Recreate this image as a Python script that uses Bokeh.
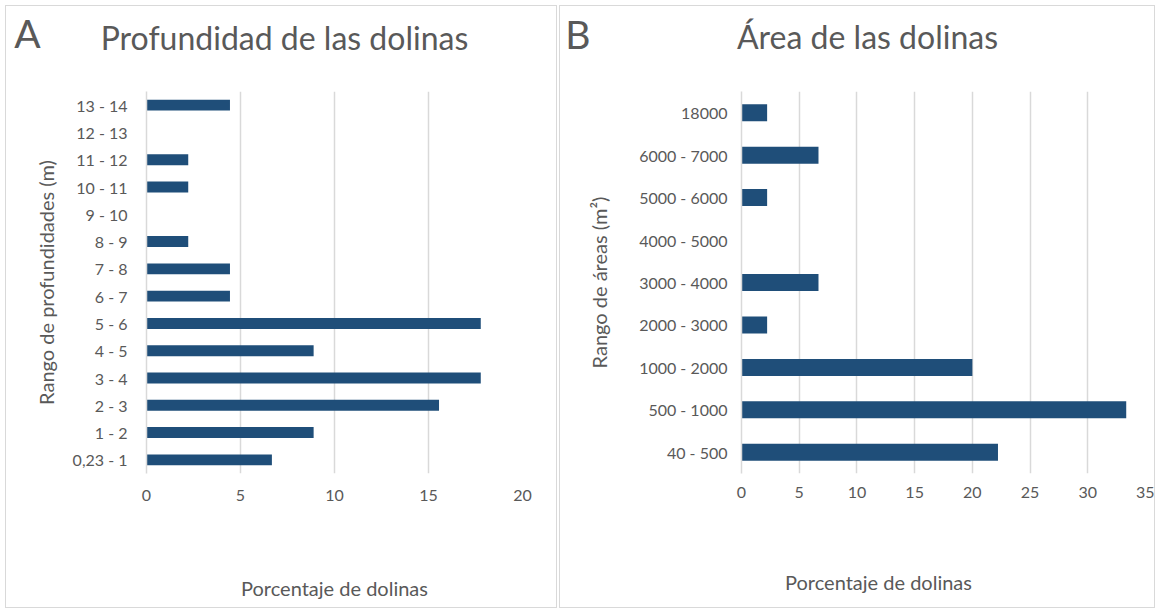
from bokeh.plotting import figure
from bokeh.models import FactorRange, Range1d, FixedTicker, ColumnDataSource, LinearAxis
from bokeh.layouts import row
from bokeh.embed import file_html
from bokeh.resources import INLINE

# ---- data ----
depth_ranges = ["13 - 14", "12 - 13", "11 - 12", "10 - 11", "9 - 10", "8 - 9", "7 - 8",
                "6 - 7", "5 - 6", "4 - 5", "3 - 4", "2 - 3", "1 - 2", "0,23 - 1"]
depth_pct = [4.44, 0, 2.22, 2.22, 0, 2.22, 4.44, 4.44, 17.78, 8.89, 17.78, 15.56, 8.89, 6.67]
depth_ticks = [0, 5, 10, 15, 20]

area_ranges = ["18000", "6000 - 7000", "5000 - 6000", "4000 - 5000", "3000 - 4000",
               "2000 - 3000", "1000 - 2000", "500 - 1000", "40 - 500"]
area_pct = [2.22, 6.67, 2.22, 0, 6.67, 2.22, 20.0, 33.33, 22.22]
area_ticks = [0, 5, 10, 15, 20, 25, 30, 35]

FONT = "Lato"
TXT = "#595959"
GRID = "#D9D9D9"
BAR = "#1F4E79"
EM, EN, THIN = "\u2003", "\u2002", "\u2009"   # trailing spaces shift a centred label left


def text_axis(label, size, standoff):
    """A tick-less x axis above the frame, used only to carry a text label."""
    return LinearAxis(ticker=FixedTicker(ticks=[]), axis_label=label,
                      axis_label_standoff=standoff,
                      axis_line_color=None, major_tick_line_color=None,
                      minor_tick_line_color=None, major_tick_out=0, minor_tick_out=0,
                      major_tick_in=0, minor_tick_in=0,
                      axis_label_text_font=FONT, axis_label_text_font_size=size,
                      axis_label_text_font_style="normal", axis_label_text_color=TXT)


def panel(cats, vals, ticks, xmax, width, mb, ytitle, ytitle_standoff,
          lab_standoff, tick_standoff, xtitle, xtitle_standoff):
    src = ColumnDataSource(dict(cat=cats, val=vals))
    p = figure(width=width, height=603, y_range=FactorRange(factors=list(reversed(cats))),
               x_range=Range1d(0, xmax), output_backend="svg", toolbar_location=None,
               min_border_left=mb[0], min_border_right=mb[1],
               min_border_top=mb[2], min_border_bottom=mb[3],
               styles={"border": "1px solid #D9D9D9", "box-sizing": "border-box"})
    p.hbar(y="cat", right="val", left=0, height=0.4, source=src, fill_color=BAR, line_color=None)
    p.outline_line_color = None
    p.ygrid.grid_line_color = None
    p.xgrid.ticker = FixedTicker(ticks=ticks)
    p.xgrid.grid_line_color = GRID
    p.xgrid.grid_line_width = 1.5
    p.xaxis.ticker = FixedTicker(ticks=ticks)
    p.xaxis.axis_line_color = None
    p.xaxis.major_tick_line_color = None
    p.xaxis.minor_tick_line_color = None
    p.xaxis.major_tick_out = 0
    p.xaxis.major_label_standoff = tick_standoff
    p.xaxis.axis_label = xtitle
    p.xaxis.axis_label_standoff = xtitle_standoff
    p.yaxis.axis_line_color = GRID
    p.yaxis.axis_line_width = 1.5
    p.yaxis.major_tick_line_color = None
    p.yaxis.major_tick_out = 0
    p.yaxis.major_label_standoff = lab_standoff
    p.yaxis.axis_label = ytitle
    p.yaxis.axis_label_standoff = ytitle_standoff
    for ax in (p.xaxis, p.yaxis):
        ax.major_label_text_font = FONT
        ax.major_label_text_font_size = "16px"
        ax.major_label_text_color = TXT
        ax.axis_label_text_font = FONT
        ax.axis_label_text_font_size = "20px"
        ax.axis_label_text_font_style = "normal"
        ax.axis_label_text_color = TXT
    return p


# ---------- left panel: frame x 146..520 (page), y 90..471 ----------
pa = panel(depth_ranges, depth_pct, depth_ticks, 20, 552, (140, 36, 84, 136),
           "Rango de profundidades (m)", 12, 19, 16,
           "Porcentaje de dolinas", 72)
pa.add_layout(text_axis("Profundidad de las dolinas" + EM * 4 + THIN, "32px", 35), "above")
pa.add_layout(text_axis("A" + EM * 21, "39px", -41), "above")

# ---------- right panel: frame x 741..1143 (page), y 86..474 ----------
pb = panel(area_ranges, area_pct, area_ticks, 35, 596, (181, 11, 80, 133),
           "Rango de áreas (m²)", 25, 14, 13,
           "Porcentaje de dolinas" + EM * 8 + EN, 69)
pb.add_layout(text_axis("Área de las dolinas" + EM * 5 + EN * 2, "32px", 36), "above")
pb.add_layout(text_axis("B" + EM * 25, "39px", -43), "above")

layout = row(pa, pb, spacing=2, margin=(5, 0, 0, 5))
open("out.html", "w").write(file_html(layout, INLINE))
